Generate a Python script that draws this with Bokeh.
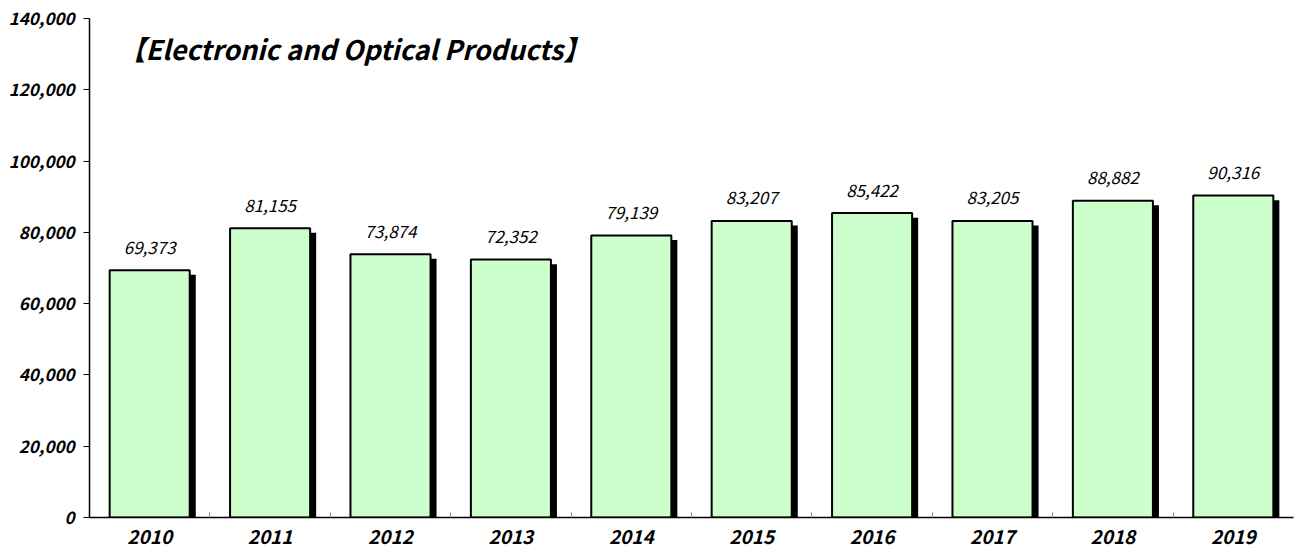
from bokeh.plotting import figure
from bokeh.models import ColumnDataSource, FixedTicker, NumeralTickFormatter, Range1d, LinearAxis
from bokeh.transform import dodge
from bokeh.core.properties import value
from bokeh.embed import file_html
from bokeh.resources import INLINE

years = ["2010", "2011", "2012", "2013", "2014", "2015", "2016", "2017", "2018", "2019"]
values = [69373, 81155, 73874, 72352, 79139, 83207, 85422, 83205, 88882, 90316]
value_labels = ["69,373", "81,155", "73,874", "72,352", "79,139", "83,207", "85,422", "83,205", "88,882", "90,316"]
title_text = "【Electronic and Optical Products】"
y_ticks = [0, 20000, 40000, 60000, 80000, 100000, 120000, 140000]

FONT = "Noto Sans CJK JP"

xpos = [i + 0.5 for i in range(len(years))]
src = ColumnDataSource(dict(
    x=xpos,
    top=values,
    shadow_top=[v - 1300 for v in values],
    label=value_labels,
))

p = figure(width=1295, height=551, output_backend="svg", toolbar_location=None,
           x_range=Range1d(0, len(years)), y_range=Range1d(0, 140000),
           min_border_left=89, min_border_right=2, min_border_top=18, min_border_bottom=34,
           x_axis_location=None, y_axis_location=None)
p.background_fill_color = "white"
p.border_fill_color = "white"
p.outline_line_color = None
p.grid.grid_line_color = None

# shadow
p.vbar(x=dodge("x", 0.05, range=p.x_range), top="shadow_top", bottom=0, width=0.665,
       source=src, fill_color="black", line_color=None)
# bars
p.vbar(x="x", top="top", bottom=0, width=0.665, source=src,
       fill_color="#CCFFCC", line_color="black", line_width=2)
# value labels
p.text(x="x", y="top", text="label", source=src, y_offset=-23,
       text_align="center", text_baseline="middle",
       text_font=value(FONT), text_font_style="italic", text_font_size="17px", text_color="black")
# title
p.text(x=[0.24], y=[131500], text=[title_text], text_align="left", text_baseline="middle",
       text_font=value(FONT), text_font_style="bold italic", text_font_size="27px", text_color="black")

yaxis = LinearAxis(ticker=FixedTicker(ticks=y_ticks, minor_ticks=[]),
                   formatter=NumeralTickFormatter(format="0,0"))
yaxis.axis_line_color = "black"
yaxis.axis_line_width = 1.5
yaxis.major_tick_in = 0
yaxis.major_tick_out = 6
yaxis.major_tick_line_color = "black"
yaxis.minor_tick_line_color = None
yaxis.major_label_text_font = FONT
yaxis.major_label_text_font_style = "bold italic"
yaxis.major_label_text_font_size = "17px"
yaxis.major_label_text_color = "black"
yaxis.major_label_standoff = 9
p.add_layout(yaxis, "left")

xaxis = LinearAxis(ticker=FixedTicker(ticks=xpos, minor_ticks=list(range(1, len(years)))),
                   major_label_overrides={x: y for x, y in zip(xpos, years)})
xaxis.axis_line_color = "black"
xaxis.axis_line_width = 1.5
xaxis.major_tick_in = 0
xaxis.major_tick_out = 0
xaxis.minor_tick_in = 5
xaxis.minor_tick_out = 0
xaxis.minor_tick_line_color = "#888888"
xaxis.major_label_text_font = FONT
xaxis.major_label_text_font_style = "bold italic"
xaxis.major_label_text_font_size = "19px"
xaxis.major_label_text_color = "black"
xaxis.major_label_standoff = 11
p.add_layout(xaxis, "below")

open("out.html", "w").write(file_html(p, INLINE))
